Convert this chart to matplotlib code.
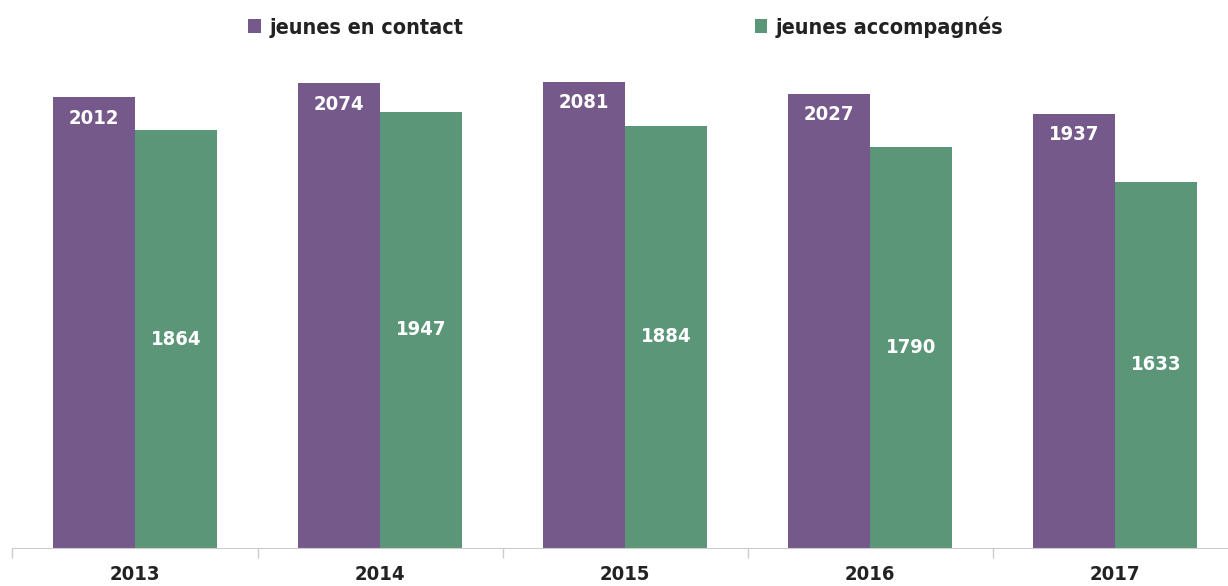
import matplotlib.pyplot as plt
import numpy as np

years = ['2013', '2014', '2015', '2016', '2017']
en_contact = [2012, 2074, 2081, 2027, 1937]
accompagnes = [1864, 1947, 1884, 1790, 1633]
labels = ['jeunes en contact', 'jeunes accompagnés']
colors = ['#74598a', '#5a9677']

plt.rcParams['font.family'] = 'DejaVu Sans'
plt.rcParams['font.stretch'] = 'condensed'

fig = plt.figure(figsize=(12.28, 5.86), dpi=100)
ax = fig.add_axes([0, 38 / 586, 1, 548 / 586])

x = np.arange(len(years))
width = 0.335

b1 = ax.bar(x - width / 2, en_contact, width, color=colors[0], label=labels[0])
b2 = ax.bar(x + width / 2, accompagnes, width, color=colors[1], label=labels[1])

# value labels: purple near the top, green in the middle
for rect, v in zip(b1, en_contact):
    ax.annotate(str(v), (rect.get_x() + rect.get_width() / 2, v),
                xytext=(0, -21), textcoords='offset pixels',
                ha='center', va='center', color='white',
                fontsize=14.5, fontweight='bold')
for rect, v in zip(b2, accompagnes):
    ax.text(rect.get_x() + rect.get_width() / 2, v / 2, str(v),
            ha='center', va='center', color='white',
            fontsize=14.5, fontweight='bold')

for s in ['top', 'right', 'left']:
    ax.spines[s].set_visible(False)
ax.spines['bottom'].set_color('#cccccc')
ax.set_yticks([])

ax.set_xticks(x)
ax.set_xticklabels(years, fontsize=14.5, fontweight='bold', color='#222222')
ax.tick_params(axis='x', which='major', length=0, pad=12)
ax.set_xticks(np.arange(-0.5, 4, 1), minor=True)
ax.tick_params(axis='x', which='minor', length=7, color='#cccccc', width=1)

# limits last, set_xticks may widen them
ax.set_xlim(-0.551, 4.461)
ax.set_ylim(0, 2445)
ax.spines['bottom'].set_bounds(-0.5, 4.461)

leg = fig.legend(ncol=2, frameon=False, loc='center',
                 bbox_to_anchor=(626 / 1228, 1 - 27 / 586),
                 handlelength=0.6, handleheight=0.6, handletextpad=0.4,
                 columnspacing=13.5, prop={'size': 15.5, 'weight': 'bold',
                                           'stretch': 'condensed'})
for t in leg.get_texts():
    t.set_color('#222222')

plt.savefig('out.png', dpi=100)
